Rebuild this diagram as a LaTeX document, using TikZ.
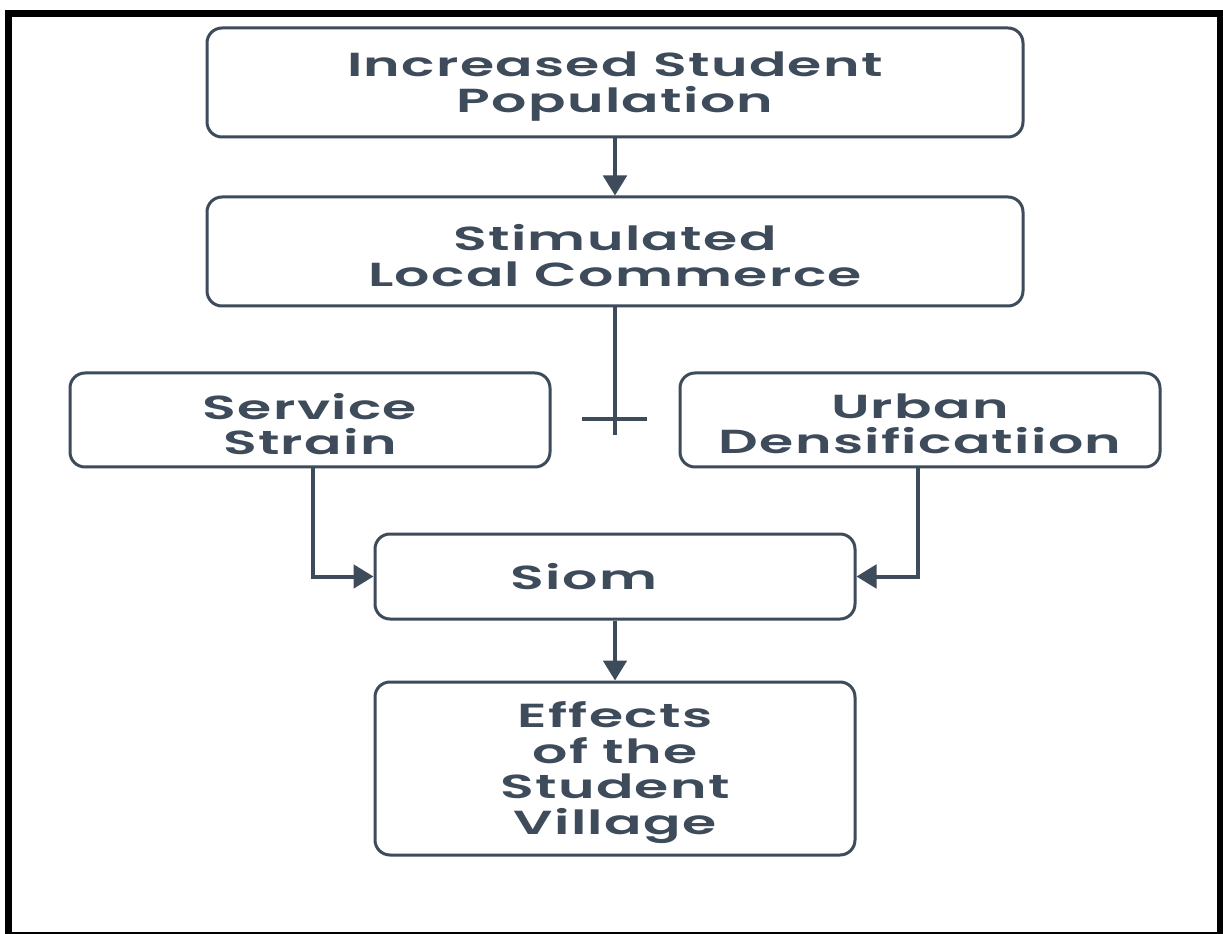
\documentclass[tikz,border=0pt]{standalone}
\usepackage{fontspec}
\setmainfont{Poppins}[BoldFont={Poppins SemiBold}, BoldFeatures={FakeStretch=1.66, LetterSpace=4}]
\usetikzlibrary{arrows.meta}
\definecolor{slate}{HTML}{3D4B5A}
\tikzset{
  box/.style={draw=slate, line width=1.8pt, rounded corners=9pt, fill=white, inner sep=0pt},
  txt/.style={text=slate, align=center, font=\fontsize{20}{21.3}\selectfont\bfseries},
  lbl/.style={label={[txt, yshift=-2.4pt]center:{#1}}},
  conn/.style={draw=slate, line width=2.4pt},
  arr/.style={conn, -{Triangle[length=12pt,width=14pt]}}
}
\begin{document}
\begin{tikzpicture}[x=0.6pt,y=-0.6pt]
\useasboundingbox (0,0) rectangle (1223,934);
\fill[white] (0,0) rectangle (1223,934);
\draw[black, line width=4.2pt] (8.5,13.5) rectangle (1220,935.5);

\node[box, minimum width=489.6pt, minimum height=65.4pt, lbl={Increased Student\\Population}] (b1) at (615,82.5) {};
\node[box, minimum width=489.6pt, minimum height=65.4pt, lbl={Stimulated\\Local Commerce}] (b2) at (615,251.5) {};
\node[box, minimum width=288pt, minimum height=56.4pt, lbl={Service\\Strain}] (serv) at (310,420) {};
\node[box, minimum width=288pt, minimum height=56.4pt, lbl={Urban\\Densificatiion}] (urb) at (920,420) {};
\node[box, minimum width=288pt, minimum height=51pt] (siom) at (615,576.5) {};
\node[txt] (siomtxt) at (584,577) {Siom};
\node[box, minimum width=288pt, minimum height=103.8pt, lbl={Effects\\of the\\Student\\Village}] (eff) at (615,768.5) {};

\coordinate (tbot) at (615,435);
\coordinate (tl) at (582,419);
\coordinate (tr) at (647,419);

\draw[arr] (b1.south) -- (b2.north);
\draw[conn] (b2.south) -- (tbot);
\draw[conn] (tl) -- (tr);
\draw[arr] ([xshift=1.8pt]serv.south) |- (siom.west);
\draw[arr] ([xshift=-1.2pt]urb.south) |- (siom.east);
\draw[arr] (siom.south) -- (eff.north);
\end{tikzpicture}
\end{document}
